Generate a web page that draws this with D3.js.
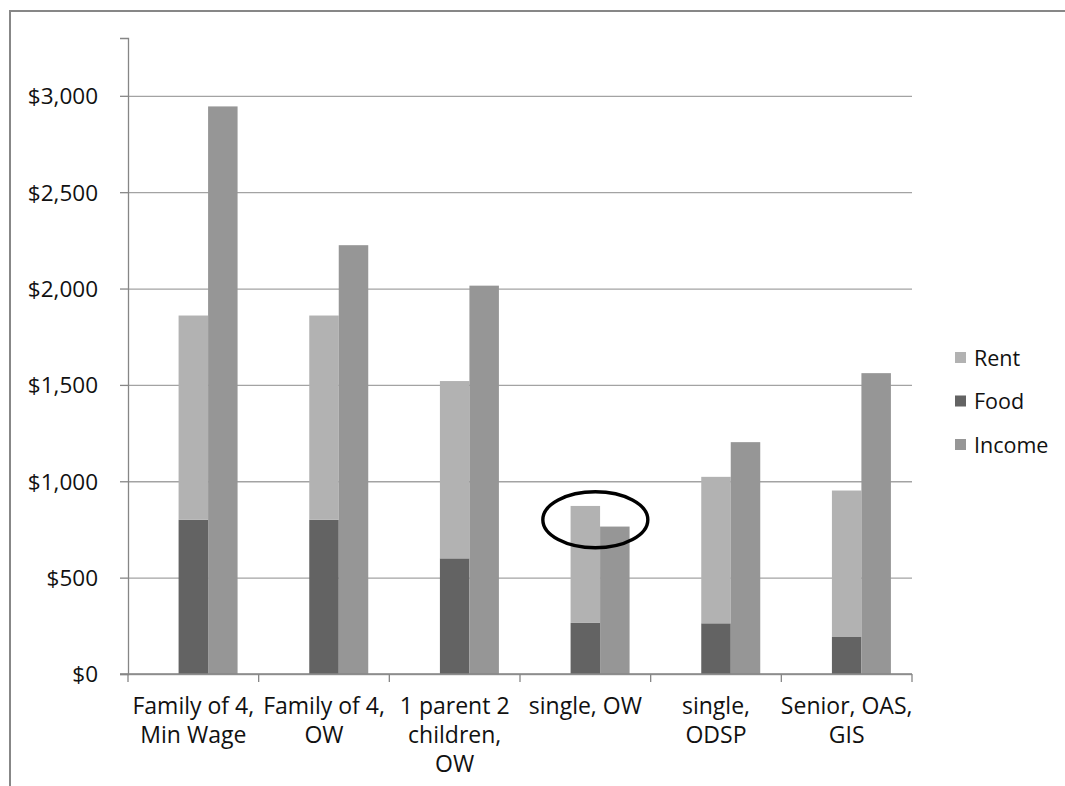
<!DOCTYPE html>
<html>
<head>
<meta charset="utf-8">
<script src="https://cdn.jsdelivr.net/npm/d3@7"></script>
<style>
    body { margin: 0; background: #fff; }
    #chart-area text { font-family: "Open Sans", "Noto Sans", sans-serif; fill: #111; }
</style>
</head>
<body>
<div id="chart-area"></div>
<script>

// categories (line breaks as in the original labels)
const categories = [
    "Family of 4,\nMin Wage",
    "Family of 4,\nOW",
    "1 parent 2\nchildren,\nOW",
    "single, OW",
    "single,\nODSP",
    "Senior, OAS,\nGIS"
];

// series values (monthly $)
const rentValues = [1060, 1060, 920, 607, 760, 760];
const foodValues = [800, 800, 600, 265, 263, 192];
const incomeValues = [2945, 2225, 2015, 765, 1203, 1561];

// y axis ticks
const yTicks = [0, 500, 1000, 1500, 2000, 2500, 3000];
const yMax = 3300;

// legend order
const seriesNames = ["Rent", "Food", "Income"];


class ComparisonChart {

    constructor(parentElement) {
        this.parentElement = parentElement;
        this.colors = { Rent: "#b2b2b2", Food: "#636363", Income: "#969696" };
        this.initVis();
    }

    initVis() {
        let vis = this;

        vis.width = 1065;
        vis.height = 786;
        vis.margin = { top: 38, right: 153, bottom: 112, left: 128 };
        vis.innerWidth = vis.width - vis.margin.left - vis.margin.right;
        vis.innerHeight = vis.height - vis.margin.top - vis.margin.bottom;

        vis.root = d3.select("#" + vis.parentElement).append("svg")
            .attr("width", vis.width)
            .attr("height", vis.height);

        // chart frame (only top and left edges in view)
        vis.root.append("path")
            .attr("d", "M10,786 L10,11 L1065,11")
            .attr("fill", "none")
            .attr("stroke", "#878787")
            .attr("stroke-width", 2);

        vis.svg = vis.root.append("g")
            .attr("transform", "translate(" + vis.margin.left + "," + vis.margin.top + ")");

        // scales
        vis.x0 = d3.scaleBand()
            .domain(categories)
            .range([0, vis.innerWidth]);

        // excel keeps an empty slot in front of each cluster
        vis.x1 = d3.scaleBand()
            .domain(["spacer", "stack", "Income"])
            .range([0, vis.x0.bandwidth()])
            .paddingInner(0)
            .paddingOuter(0.715);

        vis.y = d3.scaleLinear()
            .domain([0, yMax])
            .range([vis.innerHeight, 0]);

        vis.wrangleData();
    }

    wrangleData() {
        let vis = this;

        vis.displayData = categories.map((c, i) => ({
            category: c,
            Rent: rentValues[i],
            Food: foodValues[i],
            Income: incomeValues[i]
        }));

        // food at the bottom, rent on top
        vis.stacked = d3.stack().keys(["Food", "Rent"])(vis.displayData);

        vis.updateVis();
    }

    updateVis() {
        let vis = this;

        // gridlines
        vis.svg.append("g")
            .attr("class", "grid")
            .call(d3.axisLeft(vis.y).tickValues(yTicks).tickSize(-vis.innerWidth).tickFormat(""))
            .call(g => g.select(".domain").remove())
            .selectAll("line")
            .attr("stroke", "#a3a3a3")
            .attr("stroke-width", 1.3);

        // y axis
        let yAxis = vis.svg.append("g")
            .attr("class", "y-axis")
            .call(d3.axisLeft(vis.y).tickValues(yTicks).tickSize(8).tickPadding(22)
                .tickFormat(d => "$" + d3.format(",")(d)));
        yAxis.select(".domain").attr("stroke", "#868686").attr("stroke-width", 1.3);
        yAxis.selectAll(".tick line").attr("stroke", "#868686").attr("stroke-width", 1.3);
        yAxis.selectAll("text").style("font-size", "22.5px").attr("dy", "0.35em");

        // stacked rent + food bars
        vis.svg.append("g").selectAll("g")
            .data(vis.stacked)
            .join("g")
            .attr("fill", d => vis.colors[d.key])
            .selectAll("rect")
            .data(d => d)
            .join("rect")
            .attr("x", d => vis.x0(d.data.category) + vis.x1("stack"))
            .attr("y", d => vis.y(d[1]))
            .attr("width", vis.x1.bandwidth())
            .attr("height", d => vis.y(d[0]) - vis.y(d[1]));

        // income bars
        vis.svg.append("g").selectAll("rect")
            .data(vis.displayData)
            .join("rect")
            .attr("fill", vis.colors.Income)
            .attr("x", d => vis.x0(d.category) + vis.x1("Income"))
            .attr("y", d => vis.y(d.Income))
            .attr("width", vis.x1.bandwidth())
            .attr("height", d => vis.y(0) - vis.y(d.Income));

        // x axis line + ticks between categories
        let xAxis = vis.svg.append("g")
            .attr("class", "x-axis")
            .attr("transform", "translate(0," + vis.innerHeight + ")");
        xAxis.append("line")
            .attr("x1", -8).attr("x2", vis.innerWidth)
            .attr("stroke", "#868686").attr("stroke-width", 1.3);
        let edges = categories.map(c => vis.x0(c)).concat([vis.innerWidth]);
        xAxis.selectAll(".sep")
            .data(edges)
            .join("line")
            .attr("class", "sep")
            .attr("x1", d => d).attr("x2", d => d)
            .attr("y1", 0).attr("y2", 8)
            .attr("stroke", "#868686").attr("stroke-width", 1.3);

        // category labels
        xAxis.selectAll(".cat")
            .data(categories)
            .join("text")
            .attr("class", "cat")
            .attr("text-anchor", "middle")
            .style("font-size", "23px")
            .attr("transform", d => "translate(" + (vis.x0(d) + vis.x0.bandwidth() / 2) + ",40)")
            .selectAll("tspan")
            .data(d => d.split("\n"))
            .join("tspan")
            .attr("x", 0)
            .attr("y", (d, i) => i * 29)
            .text(d => d);

        // legend
        let legend = vis.root.append("g")
            .attr("class", "legend")
            .attr("transform", "translate(955,352)");
        let items = legend.selectAll("g")
            .data(seriesNames)
            .join("g")
            .attr("transform", (d, i) => "translate(0," + i * 43.5 + ")");
        items.append("rect")
            .attr("width", 11).attr("height", 11)
            .attr("fill", d => vis.colors[d]);
        items.append("text")
            .attr("x", 19).attr("y", 6)
            .attr("dy", "0.35em")
            .style("font-size", "21.5px")
            .text(d => d);

        // annotation ellipse around single, OW
        let focus = categories[3];
        vis.svg.append("ellipse")
            .attr("cx", vis.x0(focus) + vis.x0.bandwidth() / 2 + 10)
            .attr("cy", vis.y(800))
            .attr("rx", 52.5)
            .attr("ry", 28)
            .attr("fill", "none")
            .attr("stroke", "#000")
            .attr("stroke-width", 3.4);
    }
}

let chart = new ComparisonChart("chart-area");

</script>
</body>
</html>
